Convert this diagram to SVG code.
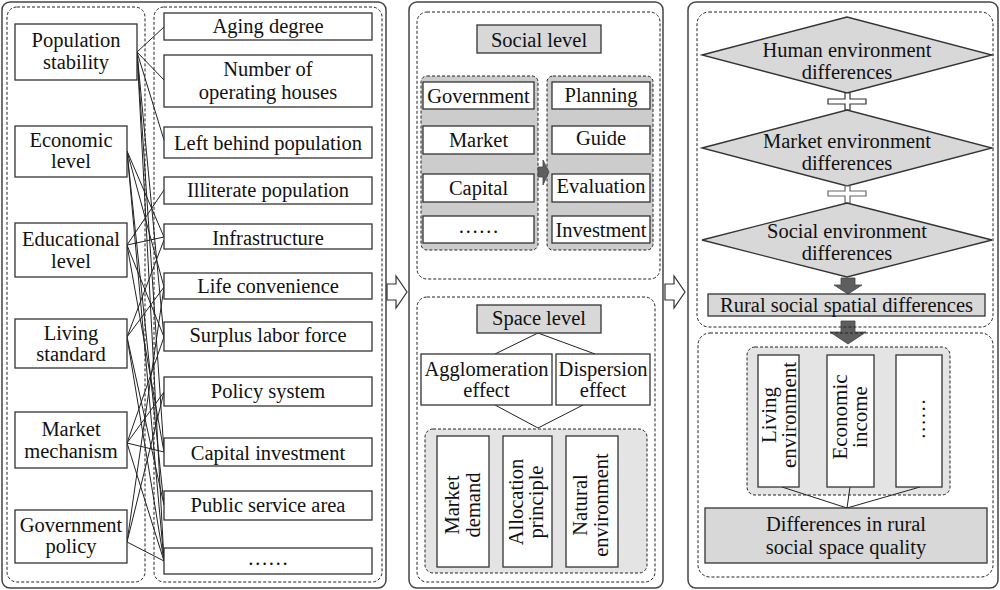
<svg xmlns="http://www.w3.org/2000/svg" width="1000" height="590" viewBox="0 0 1000 590">
<style>
.panel{fill:#fff;stroke:#444;stroke-width:1.5}
.dash{fill:none;stroke:#222;stroke-width:1;stroke-dasharray:3 2}
.gdash{fill:#cccccc;stroke:#222;stroke-width:1;stroke-dasharray:3 2}
.ldash{fill:#e4e4e4;stroke:#222;stroke-width:1;stroke-dasharray:3 2}
.box{fill:#fff;stroke:#333;stroke-width:1.3}
.gbox{fill:#d8d8d8;stroke:#333;stroke-width:1.3}
.ln{fill:none;stroke:#222;stroke-width:1}
.hollow{fill:#fff;stroke:#333;stroke-width:1.2}
.dark{fill:#5e5e5e;stroke:#444;stroke-width:0.8}
text{font-family:"Liberation Serif","Times New Roman","DejaVu Serif",serif;font-size:20.5px;fill:#111;text-anchor:middle}
</style>

<!-- panels -->
<rect class="panel" x="2" y="2" width="384" height="586" rx="8"/>
<rect class="panel" x="409" y="2" width="254" height="586" rx="8"/>
<rect class="panel" x="688" y="2" width="310" height="586" rx="8"/>

<!-- hollow arrows between panels -->
<polygon class="hollow" points="387,284 396,284 396,276 407,292 396,308 396,300 387,300"/>
<polygon class="hollow" points="665,284 674,284 674,276 685,292 674,308 674,300 665,300"/>

<!-- left panel groups -->
<rect class="dash" x="7" y="7" width="138" height="575" rx="10"/>
<rect class="dash" x="154" y="7" width="228" height="575" rx="10"/>

<g id="connectors">
<!-- population stability -->
<path class="ln" d="M137,52 L164,27 M137,52 L164,80 M137,52 L164,140 M137,52 L164,337 M137,52 L164,452 M137,52 L164,561"/>
<!-- economic level -->
<path class="ln" d="M127,151 L164,237 M127,151 L164,287 M127,151 L164,505 M127,151 L164,561"/>
<!-- educational level -->
<path class="ln" d="M127,245 L164,190 M127,245 L164,237 M127,245 L164,337 M127,245 L164,452"/>
<!-- living standard -->
<path class="ln" d="M127,337 L164,240 M127,337 L164,287 M127,337 L164,505 M127,337 L164,561"/>
<!-- market mechanism -->
<path class="ln" d="M127,443 L164,392 M127,443 L164,452 M127,443 L164,561 M127,443 L164,337"/>
<!-- government policy -->
<path class="ln" d="M127,542 L164,392 M127,542 L164,287 M127,542 L164,561"/>
<!-- space level tree -->
<path class="ln" d="M538,333 L495,354 M538,333 L595,354 M495,405 L538,428 M583,405 L538,428"/>
</g>

<!-- left boxes -->
<g id="n-pop"><rect class="box" x="15" y="24" width="122" height="56"/><text x="76" y="47">Population</text><text x="76" y="69">stability</text></g>
<g id="n-econ"><rect class="box" x="15" y="126" width="112" height="51"/><text x="71" y="147">Economic</text><text x="71" y="168">level</text></g>
<g id="n-edu"><rect class="box" x="15" y="223" width="112" height="54"/><text x="71" y="246">Educational</text><text x="71" y="268">level</text></g>
<g id="n-living"><rect class="box" x="15" y="319" width="112" height="49"/><text x="71" y="340">Living</text><text x="71" y="361">standard</text></g>
<g id="n-market"><rect class="box" x="15" y="412" width="112" height="56"/><text x="71" y="436">Market</text><text x="71" y="458">mechanism</text></g>
<g id="n-gov"><rect class="box" x="15" y="510" width="112" height="53"/><text x="71" y="532">Government</text><text x="71" y="553">policy</text></g>

<!-- right boxes of left panel -->
<g id="n-aging"><rect class="box" x="164" y="13" width="208" height="27"/><text x="268" y="33">Aging degree</text></g>
<g id="n-houses"><rect class="box" x="164" y="55" width="208" height="52"/><text x="268" y="76">Number of</text><text x="268" y="99">operating houses</text></g>
<g id="n-left"><rect class="box" x="164" y="127" width="208" height="31"/><text x="268" y="150">Left behind population</text></g>
<g id="n-illit"><rect class="box" x="164" y="177" width="208" height="27"/><text x="268" y="197">Illiterate population</text></g>
<g id="n-infra"><rect class="box" x="164" y="224" width="208" height="25"/><text x="268" y="245">Infrastructure</text></g>
<g id="n-life"><rect class="box" x="164" y="273" width="208" height="26"/><text x="268" y="293">Life convenience</text></g>
<g id="n-surplus"><rect class="box" x="164" y="322" width="208" height="29"/><text x="268" y="342">Surplus labor force</text></g>
<g id="n-policy"><rect class="box" x="164" y="377" width="208" height="29"/><text x="268" y="398">Policy system</text></g>
<g id="n-capital"><rect class="box" x="164" y="438" width="208" height="28"/><text x="268" y="460">Capital investment</text></g>
<g id="n-public"><rect class="box" x="164" y="491" width="208" height="29"/><text x="268" y="512">Public service area</text></g>
<g id="n-more1"><rect class="box" x="164" y="548" width="208" height="26"/><text x="268" y="565">……</text></g>

<!-- middle panel: social level -->
<rect class="dash" x="417" y="12" width="243" height="267" rx="10"/>
<g id="n-social"><rect class="gbox" x="477" y="25" width="124" height="28"/><text x="539" y="47">Social level</text></g>
<rect class="gdash" x="421" y="76" width="117" height="174" rx="6"/>
<rect class="gdash" x="547" y="76" width="106" height="174" rx="6"/>
<polygon class="dark" points="538,167 543,167 543,160 549,172 543,185 543,177 538,177"/>
<g id="n-government"><rect class="box" x="423" y="82" width="111" height="27"/><text x="478.5" y="103">Government</text></g>
<g id="n-mkt"><rect class="box" x="423" y="126" width="111" height="28"/><text x="478.5" y="147">Market</text></g>
<g id="n-cap"><rect class="box" x="423" y="174" width="111" height="28"/><text x="478.5" y="195">Capital</text></g>
<g id="n-more2"><rect class="box" x="423" y="216" width="111" height="27"/><text x="478.5" y="233">……</text></g>
<g id="n-planning"><rect class="box" x="552" y="82" width="98" height="27"/><text x="601" y="102">Planning</text></g>
<g id="n-guide"><rect class="box" x="552" y="126" width="98" height="28"/><text x="601" y="145">Guide</text></g>
<g id="n-eval"><rect class="box" x="552" y="174" width="98" height="28"/><text x="601" y="193">Evaluation</text></g>
<g id="n-invest"><rect class="box" x="552" y="216" width="98" height="27"/><text x="601" y="237">Investment</text></g>

<!-- middle panel: space level -->
<rect class="dash" x="417" y="297" width="238" height="285" rx="10"/>
<g id="n-space"><rect class="gbox" x="477" y="305" width="124" height="28"/><text x="539" y="325">Space level</text></g>
<g id="n-agglo"><rect class="box" x="421" y="354" width="131" height="51"/><text x="486.5" y="376">Agglomeration</text><text x="486.5" y="397">effect</text></g>
<g id="n-disp"><rect class="box" x="556" y="354" width="94" height="51"/><text x="603" y="376">Dispersion</text><text x="603" y="397">effect</text></g>
<rect class="ldash" x="425" y="429" width="222" height="144" rx="8"/>
<g id="n-mdemand"><rect class="box" x="437" y="436" width="52" height="131"/><text transform="translate(463,505) rotate(-90)"><tspan x="0" y="-4">Market</tspan><tspan x="0" y="17">demand</tspan></text></g>
<g id="n-alloc"><rect class="box" x="503" y="436" width="49" height="131"/><text transform="translate(527.5,502) rotate(-90)"><tspan x="0" y="-5">Allocation</tspan><tspan x="0" y="15">principle</tspan></text></g>
<g id="n-natural"><rect class="box" x="566" y="436" width="52" height="131"/><text transform="translate(592,505) rotate(-90)"><tspan x="0" y="-5">Natural</tspan><tspan x="0" y="16">environment</tspan></text></g>

<!-- right panel -->
<polygon class="dark" points="841,278 855,278 855,285 862,285 848,294 834,285 841,285"/>
<polygon class="dark" points="841,321 855,321 855,332 866,332 848,344 830,332 841,332"/>
<rect class="dash" x="697" y="12" width="296" height="315" rx="12"/>
<rect class="dash" x="698" y="333" width="295" height="244" rx="12"/>

<g id="n-human"><polygon class="gbox" points="702,55 847,17 992,55 847,93"/><text x="847" y="57">Human environment</text><text x="847" y="79">differences</text></g>
<polygon class="hollow" points="845,93 850,93 850,99 866,99 866,104 850,104 850,110 845,110 845,104 828,104 828,99 845,99"/>
<g id="n-marketenv"><polygon class="gbox" points="702,148 847,110 992,148 847,186"/><text x="847" y="148">Market environment</text><text x="847" y="170">differences</text></g>
<polygon class="hollow" style="stroke:#666" points="845,186 850,186 850,191 866,191 866,196 850,196 850,203 845,203 845,196 828,196 828,191 845,191"/>
<g id="n-socialenv"><polygon class="gbox" points="702,240 847,203 992,240 847,277"/><text x="847" y="238">Social environment</text><text x="847" y="260">differences</text></g>
<g id="n-rural"><rect class="gbox" x="708" y="294" width="277" height="22"/><text x="846.5" y="312">Rural social spatial differences</text></g>

<rect class="ldash" x="747" y="347" width="203" height="148" rx="8"/>
<g id="connectors-right"><path class="ln" d="M782,487 L847,508 M850,487 L847,508 M920,487 L847,508"/></g>
<g id="n-livenv"><rect class="box" x="758" y="355" width="41" height="132"/><text style="font-size:21px" transform="translate(778.5,415) rotate(-90)"><tspan x="0" y="-3">Living</tspan><tspan x="0" y="17">environment</tspan></text></g>
<g id="n-income"><rect class="box" x="827" y="355" width="47" height="132"/><text style="font-size:21px" transform="translate(850.5,417) rotate(-90)"><tspan x="0" y="-4">Economic</tspan><tspan x="0" y="16">income</tspan></text></g>
<g id="n-more3"><rect class="box" x="896" y="355" width="46" height="132"/><text transform="translate(919,419) rotate(-90)"><tspan x="0" y="6">……</tspan></text></g>
<g id="n-quality"><rect class="gbox" x="705" y="508" width="282" height="55"/><text x="846" y="531">Differences in rural</text><text x="846" y="554">social space quality</text></g>
</svg>
